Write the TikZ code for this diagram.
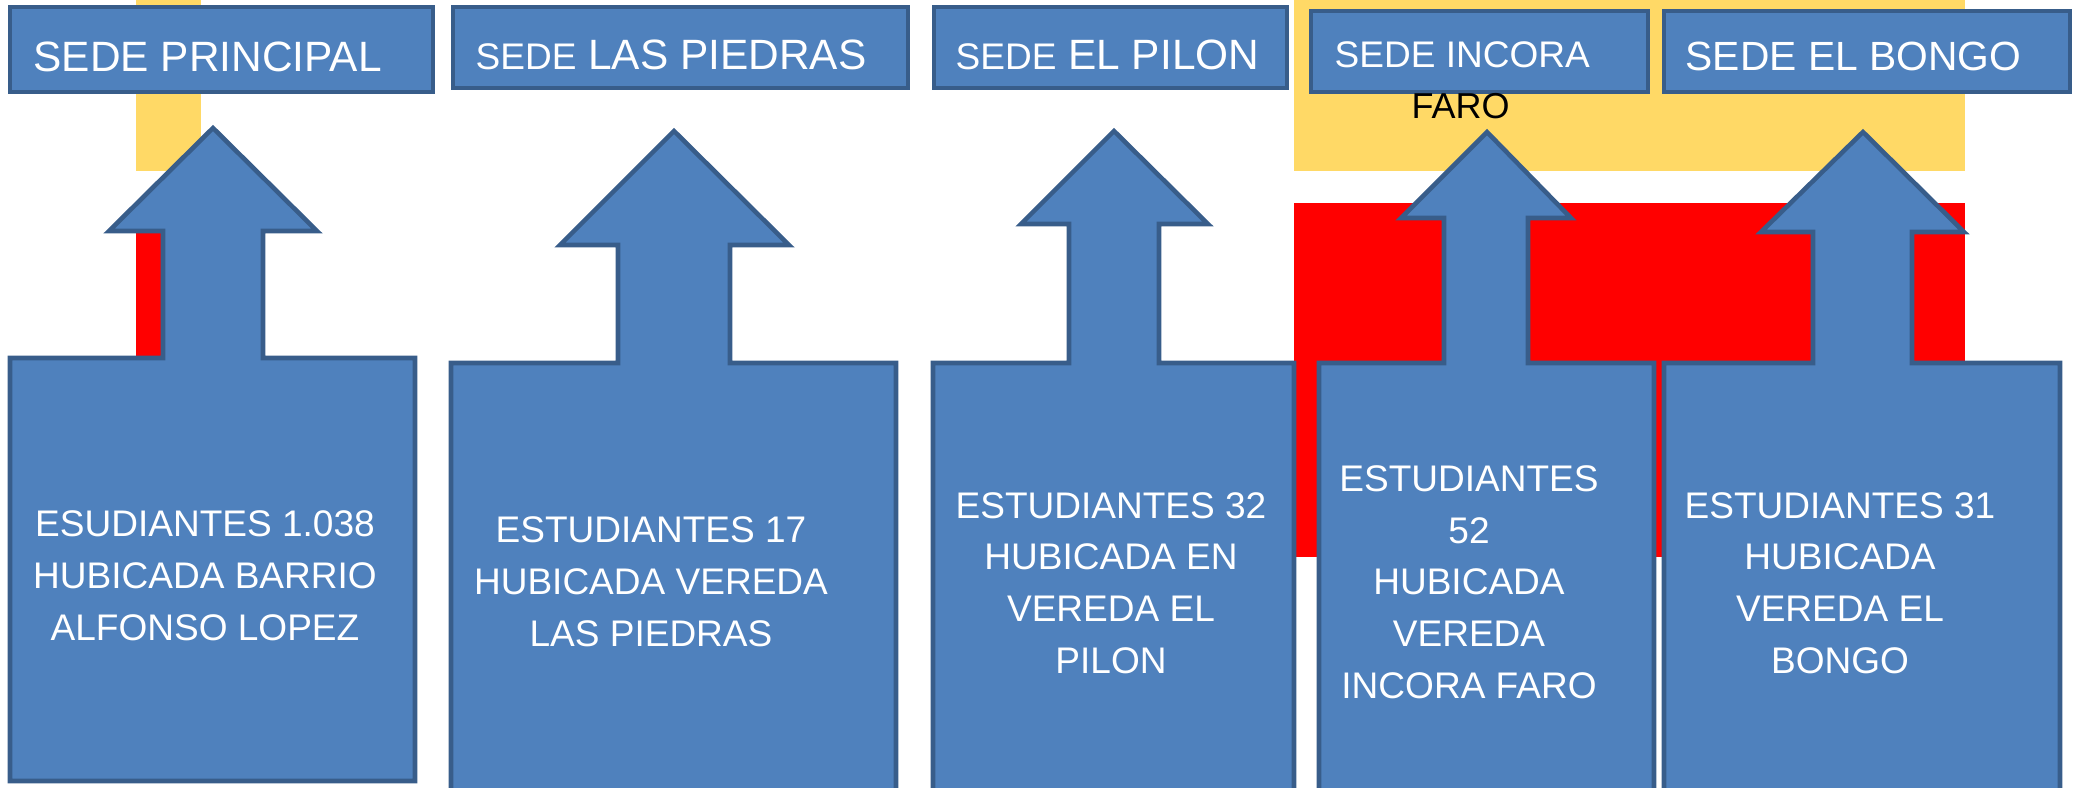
\documentclass[tikz,border=0pt]{standalone}
\usepackage{fontspec}
\setmainfont{Liberation Sans}
\definecolor{sedeblue}{HTML}{4F81BD}
\definecolor{sedeline}{HTML}{385D8A}
\definecolor{bandyellow}{HTML}{FFD966}
\definecolor{bandred}{HTML}{FF0000}
\newcommand{\sedebig}{\fontsize{12.06}{14}\selectfont}
\newcommand{\sedesmall}{\fontsize{10.53}{12}\selectfont}
\newcommand{\esttext}{\fontsize{10.53}{14.65}\selectfont}

\begin{document}
\begin{tikzpicture}[x=0.01cm,y=-0.01cm,
  sede/.style={fill=sedeblue,draw=sedeline,line width=1.3pt,line join=miter},
  lbl/.style={text=white,anchor=base west,inner sep=0pt},
  est/.style={text=white,align=center,anchor=base,inner sep=0pt,font=\esttext}]
  \useasboundingbox (0,0) rectangle (2074,787);
  \clip (0,0) rectangle (2074,787);
  % bands behind
  \fill[bandyellow] (136,0) rectangle (201,171);
  \fill[bandred] (136,203) rectangle (201,557);
  \fill[bandyellow] (1294,0) rectangle (1965,171);
  \fill[bandred] (1294,203) rectangle (1965,557);
  % sede boxes
  \draw[sede] (10,7) rectangle (433,92);
  \draw[sede] (453,7) rectangle (908,88);
  \draw[sede] (934,7) rectangle (1287,88);
  \draw[sede] (1311,11) rectangle (1648,92);
  \draw[sede] (1664,11) rectangle (2070,92);
  \node[lbl,font=\sedebig] (sede1) at (33,71) {SEDE PRINCIPAL};
  \node[lbl,font=\sedebig] (sede2) at (475,69) {{\sedesmall SEDE} LAS PIEDRAS};
  \node[lbl,font=\sedebig] (sede3) at (955,69) {{\sedesmall SEDE} EL PILON};
  \node[lbl,font=\sedesmall] (sede4) at (1334,67) {SEDE INCORA};
  \node[lbl,text=black,font=\fontsize{10.24}{12}\selectfont] (faro) at (1411,118) {FARO};
  \node[lbl,font=\fontsize{11.6}{13}\selectfont] (sede5) at (1685,70) {SEDE EL BONGO};
  % arrow callouts
  \draw[sede] (10,781) -- (10,358) -- (163,358) -- (163,231) -- (109,231) -- (213,128)
    -- (317,231) -- (263,231) -- (263,358) -- (415,358) -- (415,781) -- cycle;
  \draw[sede] (451,800) -- (451,363) -- (618,363) -- (618,245) -- (560,245) -- (674,131)
    -- (789,245) -- (730,245) -- (730,363) -- (896,363) -- (896,800) -- cycle;
  \draw[sede] (933,800) -- (933,363) -- (1069,363) -- (1069,224) -- (1021,224) -- (1114,131)
    -- (1208,224) -- (1159,224) -- (1159,363) -- (1294,363) -- (1294,800) -- cycle;
  \draw[sede] (1319,800) -- (1319,363) -- (1444,363) -- (1444,218) -- (1401,218) -- (1487,132)
    -- (1571,218) -- (1528,218) -- (1528,363) -- (1654,363) -- (1654,800) -- cycle;
  \draw[sede] (1664,800) -- (1664,363) -- (1813,363) -- (1813,232) -- (1761,232) -- (1863,132)
    -- (1964,232) -- (1912,232) -- (1912,363) -- (2060,363) -- (2060,800) -- cycle;
  % text sits on the baseline of its last line
  \node[est] (est1) at (205,640) {ESUDIANTES 1.038\\HUBICADA BARRIO\\ALFONSO LOPEZ};
  \node[est] (est2) at (651,646) {ESTUDIANTES 17\\HUBICADA VEREDA\\LAS PIEDRAS};
  \node[est] (est3) at (1111,673) {ESTUDIANTES 32\\HUBICADA EN\\VEREDA EL\\PILON};
  \node[est] (est4) at (1469,698) {ESTUDIANTES\\52\\HUBICADA\\VEREDA\\INCORA FARO};
  \node[est] (est5) at (1840,673) {ESTUDIANTES 31\\HUBICADA\\VEREDA EL\\BONGO};
\end{tikzpicture}
\end{document}
